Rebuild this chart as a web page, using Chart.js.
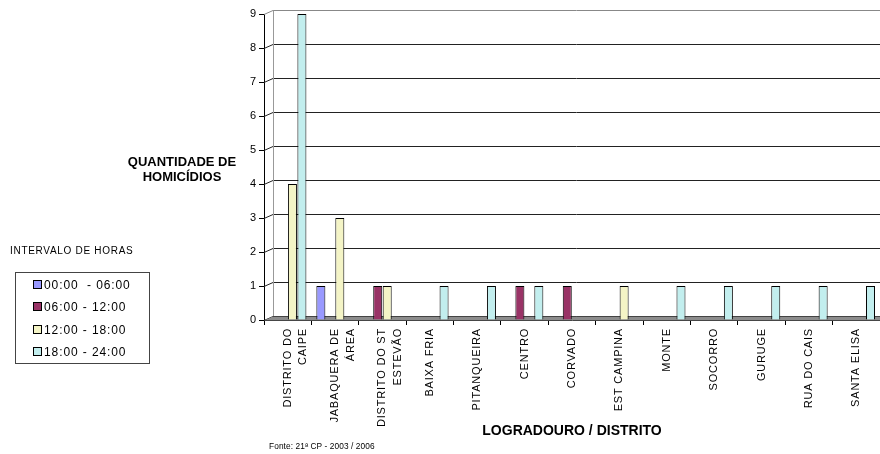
<!DOCTYPE html>
<html>
<head>
<meta charset="utf-8">
<script src="https://cdn.jsdelivr.net/npm/chart.js@4/dist/chart.umd.min.js"></script>
<style>
  html, body { margin: 0; padding: 0; background: #fff; }
  #wrap { position: relative; width: 880px; height: 454px; overflow: hidden; font-family: "Liberation Sans", Arial, sans-serif; }
  canvas { position: absolute; left: 0; top: 0; }
  .ytitle { position: absolute; left: 112px; top: 154px; width: 140px; text-align: center; font-weight: bold; font-size: 13px; line-height: 15px; color: #000; }
  .legtitle { position: absolute; left: 10px; top: 245px; font-size: 10px; letter-spacing: 0.7px; color: #000; }
  .legbox { position: absolute; left: 15px; top: 272px; width: 133px; height: 90px; border: 1px solid #444; background: #fff; }
  .legitem { position: absolute; left: 17px; font-size: 12px; letter-spacing: 0.9px; color: #000; line-height: 14px; white-space: pre; }
  .legitem span.sw { display: inline-block; width: 7px; height: 7px; border: 1px solid #000; margin-right: 2px; vertical-align: 0px; }
  .footer { position: absolute; left: 269px; top: 441px; font-size: 8.3px; color: #000; letter-spacing: 0.1px; }
</style>
</head>
<body>
<div id="wrap">
  <canvas id="c" width="880" height="454"></canvas>
  <div class="ytitle">QUANTIDADE DE<br>HOMICÍDIOS</div>
  <div class="legtitle">INTERVALO DE HORAS</div>
  <div class="legbox" id="legbox"></div>
  <div class="footer">Fonte: 21ª CP - 2003 / 2006</div>
</div>
<script>
// ---- data ----
const categories = [
  ["DISTRITO DO", "CAIPE"],
  ["JABAQUERA DE", "ÁREA"],
  ["DISTRITO DO ST", "ESTEVÃO"],
  "BAIXA FRIA",
  "PITANQUEIRA",
  "CENTRO",
  "CORVADO",
  "EST CAMPINA",
  "MONTE",
  "SOCORRO",
  "GURUGE",
  "RUA DO CAIS",
  "SANTA ELISA"
];
const seriesNames = ["00:00  - 06:00", "06:00 - 12:00", "12:00 - 18:00", "18:00 - 24:00"];
const h00_06 = [0, 1, 0, 0, 0, 0, 0, 0, 0, 0, 0, 0, 0];
const h06_12 = [0, 0, 1, 0, 0, 1, 1, 0, 0, 0, 0, 0, 0];
const h12_18 = [4, 3, 1, 0, 0, 0, 0, 1, 0, 0, 0, 0, 0];
const h18_24 = [9, 0, 0, 1, 1, 1, 0, 0, 1, 1, 1, 1, 1];
const yTicks = [0, 1, 2, 3, 4, 5, 6, 7, 8, 9];
const xTitle = "LOGRADOURO / DISTRITO";

const colors = ["#9999ff", "#993366", "#f4f4c6", "#c2eeee"];
const seriesData = [h00_06, h06_12, h12_18, h18_24];

// HTML legend built from series
const legbox = document.getElementById('legbox');
const rowTops = [5, 27, 50, 72];
seriesNames.forEach((n, i) => {
  const d = document.createElement('div');
  d.className = 'legitem';
  d.style.top = rowTops[i] + 'px';
  d.innerHTML = '<span class="sw" style="background:' + colors[i] + '"></span>' + n;
  legbox.appendChild(d);
});

// 3D-style back wall, gridlines and floor, derived from the y scale
const DX = 9, DY = -4;
const wallPlugin = {
  id: 'wall',
  beforeDatasetsDraw(chart) {
    const { ctx, chartArea } = chart;
    const ys = chart.scales.y;
    const L = chartArea.left, R = chartArea.right;
    ctx.save();
    ys.ticks.forEach(t => {
      const y = Math.round(ys.getPixelForValue(t.value)) + 0.5;
      ctx.strokeStyle = t.value === 9 ? '#888' : '#222';
      ctx.lineWidth = 1;
      ctx.beginPath();
      ctx.moveTo(L, y);
      ctx.lineTo(L + DX, y + DY);
      ctx.lineTo(R, y + DY);
      ctx.stroke();
    });
    const yTop = Math.round(ys.getPixelForValue(9)) + 0.5 + DY;
    const y0 = Math.round(ys.getPixelForValue(0)) + 0.5;
    ctx.strokeStyle = '#999';
    ctx.beginPath();
    ctx.moveTo(L + DX + 0.5, yTop);
    ctx.lineTo(L + DX + 0.5, y0 + DY);
    ctx.stroke();
    ctx.fillStyle = '#8c8c8c';
    ctx.beginPath();
    ctx.moveTo(L, y0);
    ctx.lineTo(L + DX, y0 + DY);
    ctx.lineTo(R, y0 + DY);
    ctx.lineTo(R, y0);
    ctx.closePath();
    ctx.fill();
    ctx.strokeStyle = '#444';
    ctx.beginPath();
    ctx.moveTo(L + DX, y0 + DY);
    ctx.lineTo(R, y0 + DY);
    ctx.stroke();
    ctx.restore();
  },
  afterUpdate(chart) {
    const s = chart.scales.x;
    if (s && !s._lsWrapped) {
      const orig = s.drawLabels.bind(s);
      s.drawLabels = function (ca) {
        const c = chart.ctx;
        c.save();
        c.letterSpacing = '0.8px';
        orig(ca);
        c.restore();
      };
      s._lsWrapped = true;
    }
  }
};

new Chart(document.getElementById('c'), {
  type: 'bar',
  data: {
    labels: categories,
    datasets: seriesNames.map((n, i) => ({
      label: n,
      data: seriesData[i],
      backgroundColor: colors[i],
      borderColor: '#000',
      borderWidth: 1,
      borderSkipped: 'bottom',
      categoryPercentage: 0.8,
      barPercentage: 0.95
    }))
  },
  options: {
    responsive: false,
    animation: false,
    layout: { padding: { top: 14, left: 0, right: 0, bottom: 0 } },
    plugins: {
      legend: { display: false },
      tooltip: { enabled: false }
    },
    scales: {
      x: {
        ticks: {
          minRotation: 90, maxRotation: 90, autoSkip: false,
          color: '#000', padding: 3,
          font: { family: '"Liberation Sans", Arial, sans-serif', size: 11, lineHeight: 1.4 }
        },
        grid: { display: true, drawOnChartArea: false, drawTicks: true, tickLength: 5, color: '#000', offset: true },
        border: { color: '#000', width: 1 },
        title: {
          display: true, text: xTitle, color: '#000',
          font: { family: '"Liberation Sans", Arial, sans-serif', size: 14, weight: 'bold' },
          padding: { top: 0, bottom: 14 }
        },
        afterFit(scale) { scale.height = 134; }
      },
      y: {
        min: 0, max: 9,
        afterBuildTicks(scale) { scale.ticks = yTicks.map(v => ({ value: v })); },
        ticks: {
          color: '#000', padding: 3,
          font: { family: '"Liberation Sans", Arial, sans-serif', size: 11 }
        },
        grid: { drawOnChartArea: false, tickColor: '#000', tickLength: 5, drawTicks: true },
        border: { color: '#000', width: 1 },
        afterFit(scale) { scale.width = 264; }
      }
    }
  },
  plugins: [wallPlugin]
});
</script>
</body>
</html>
